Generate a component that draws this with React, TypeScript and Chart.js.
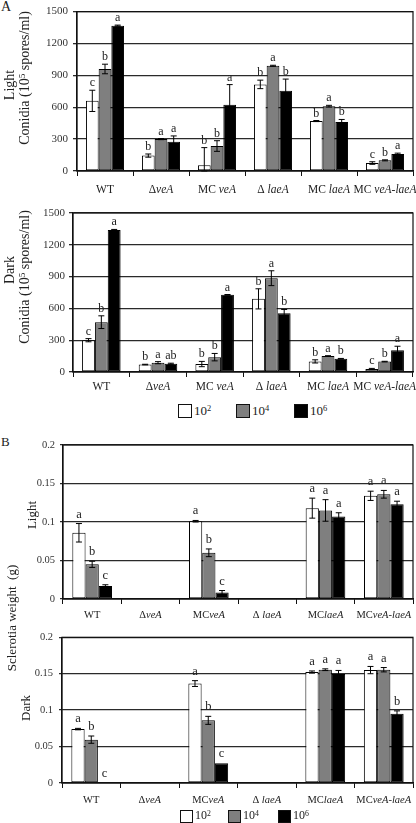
import React, { useEffect, useRef } from "react";
import { Chart, registerables } from "chart.js";
Chart.register(...registerables);

const SERIF = '"Liberation Serif", "Times New Roman", serif';

// ---------- data ----------
const seriesNames = ["10²", "10⁴", "10⁶"];
const seriesFills = ["#ffffff", "#7f7f7f", "#000000"];

const catPrefixA = ["WT", "Δ", "MC ", "Δ ", "MC ", "MC "];
const catPrefixB = ["WT", "Δ", "MC", "Δ ", "MC", "MC"];
const catItalic = ["", "veA", "veA", "laeA", "laeA", "veA-laeA"];

// Panel A – Light (conidia, 10^5 spores/ml)
const aLight102 = [660, 145, 55, 815, 470, 75];
const aLight104 = [960, 300, 235, 990, 610, 100];
const aLight106 = [1368, 275, 623, 755, 460, 160];
const aLightErr102 = [100, 15, 165, 40, 5, 12];
const aLightErr104 = [45, 5, 50, 5, 8, 5];
const aLightErr106 = [5, 55, 190, 110, 25, 8];
const aLightLet102 = ["c", "b", "b", "b", "b", "c"];
const aLightLet104 = ["b", "a", "b", "a", "a", "b"];
const aLightLet106 = ["a", "a", "a", "b", "b", "a"];

// Panel A – Dark
const aDark102 = [300, 70, 75, 690, 100, 28];
const aDark104 = [470, 88, 140, 885, 150, 98];
const aDark106 = [1340, 78, 728, 555, 125, 205];
const aDarkErr102 = [15, 3, 25, 95, 15, 6];
const aDarkErr104 = [60, 10, 35, 70, 4, 3];
const aDarkErr106 = [5, 5, 3, 35, 3, 38];
const aDarkLet102 = ["c", "b", "b", "b", "b", "c"];
const aDarkLet104 = ["b", "a", "b", "a", "a", "b"];
const aDarkLet106 = ["a", "ab", "a", "b", "b", "a"];

// Panel B – Light (sclerotia weight, g)
const bLight102 = [0.086, 0, 0.101, 0, 0.118, 0.134];
const bLight104 = [0.045, 0, 0.06, 0, 0.115, 0.136];
const bLight106 = [0.017, 0, 0.0085, 0, 0.107, 0.123];
const bLightErr102 = [0.012, 0, 0.001, 0, 0.013, 0.006];
const bLightErr104 = [0.004, 0, 0.005, 0, 0.014, 0.005];
const bLightErr106 = [0.0015, 0, 0.0025, 0, 0.005, 0.004];
const bLightLet102 = ["a", "", "a", "", "a", "a"];
const bLightLet104 = ["b", "", "b", "", "a", "a"];
const bLightLet106 = ["c", "", "c", "", "a", "a"];

// Panel B – Dark
const bDark102 = [0.074, 0, 0.1365, 0, 0.1523, 0.155];
const bDark104 = [0.0595, 0, 0.086, 0, 0.1555, 0.1555];
const bDark106 = [0, 0, 0.027, 0, 0.1495, 0.095];
const bDarkErr102 = [0.001, 0, 0.004, 0, 0.0015, 0.005];
const bDarkErr104 = [0.005, 0, 0.0055, 0, 0.0012, 0.003];
const bDarkErr106 = [0, 0, 0, 0, 0.005, 0.004];
const bDarkLet102 = ["a", "", "a", "", "a", "a"];
const bDarkLet104 = ["b", "", "b", "", "a", "a"];
const bDarkLet106 = ["c", "", "c", "", "a", "b"];

const yTicksA = { max: 1500, step: 300 };
const yTicksB = { max: 0.2, step: 0.05 };

// ---------- panel ----------
type Rect = { l: number; t: number; r: number; b: number };
type PanelCfg = {
  top: number;
  height: number;
  plot: Rect;
  yMax: number;
  yStep: number;
  tickFont: number;
  tickLen: number;
  tickPad: number;
  catFont: number;
  catOffset: number;
  letterFont: number;
  letterGap: number;
  prefixes: string[];
  values: number[][];
  errors: number[][];
  letters: string[][];
  fmt: (v: number) => string;
};

function Panel({ cfg }: { cfg: PanelCfg }) {
  const ref = useRef<HTMLCanvasElement | null>(null);
  useEffect(() => {
    const canvas = ref.current;
    if (!canvas) return;
    const labels = cfg.prefixes.map((p, i) => p + catItalic[i]);
    const overlay = {
      id: "overlay",
      afterDatasetsDraw(chart: any) {
        const ctx = chart.ctx as CanvasRenderingContext2D;
        const ys = chart.scales.y;
        const xs = chart.scales.x;
        ctx.save();
        chart.data.datasets.forEach((_ds: any, di: number) => {
          const meta = chart.getDatasetMeta(di);
          meta.data.forEach((el: any, j: number) => {
            const v = cfg.values[di][j];
            const e = cfg.errors[di][j];
            const x = el.x;
            const yh = ys.getPixelForValue(v + e);
            if (e > 0) {
              const yl = ys.getPixelForValue(Math.max(0, v - e));
              ctx.strokeStyle = "#000";
              ctx.lineWidth = 1;
              ctx.beginPath();
              ctx.moveTo(x, yh);
              ctx.lineTo(x, yl);
              ctx.moveTo(x - 3, yh);
              ctx.lineTo(x + 3, yh);
              ctx.moveTo(x - 3, yl);
              ctx.lineTo(x + 3, yl);
              ctx.stroke();
            }
            const L = cfg.letters[di][j];
            if (L) {
              ctx.fillStyle = "#222";
              ctx.font = `${cfg.letterFont}px ${SERIF}`;
              ctx.textAlign = "center";
              ctx.textBaseline = "alphabetic";
              ctx.fillText(L, x, yh - cfg.letterGap);
            }
          });
        });
        // category labels with italic gene names
        const yLab = chart.chartArea.bottom + cfg.catOffset;
        labels.forEach((_l, i) => {
          const cx = xs.getPixelForTick(i);
          const f1 = `${cfg.catFont}px ${SERIF}`;
          const f2 = `italic ${cfg.catFont}px ${SERIF}`;
          ctx.font = f1;
          const w1 = ctx.measureText(cfg.prefixes[i]).width;
          ctx.font = f2;
          const w2 = ctx.measureText(catItalic[i]).width;
          const x0 = cx - (w1 + w2) / 2;
          ctx.fillStyle = "#222";
          ctx.textAlign = "left";
          ctx.textBaseline = "middle";
          ctx.font = f1;
          ctx.fillText(cfg.prefixes[i], x0, yLab);
          ctx.font = f2;
          ctx.fillText(catItalic[i], x0 + w1, yLab);
        });
        // frame
        const a = chart.chartArea;
        ctx.strokeStyle = "#111";
        ctx.lineWidth = 1.2;
        ctx.strokeRect(a.left, a.top, a.right - a.left, a.bottom - a.top);
        ctx.restore();
      },
    };
    const chart = new Chart(canvas, {
      type: "bar",
      data: {
        labels,
        datasets: seriesNames.map((n, i) => ({
          label: n,
          data: cfg.values[i],
          backgroundColor: seriesFills[i],
          borderColor: "#000",
          borderWidth: 1,
          borderSkipped: false,
          barPercentage: 1,
          categoryPercentage: 0.68,
        })),
      },
      options: {
        responsive: false,
        maintainAspectRatio: false,
        animation: false,
        devicePixelRatio: 1,
        layout: {
          padding: { left: 0, right: 416 - cfg.plot.r, top: cfg.plot.t - cfg.top, bottom: 0 },
        },
        plugins: {
          legend: { display: false },
          tooltip: { enabled: false },
          title: { display: false },
        },
        scales: {
          x: {
            grid: {
              display: true,
              offset: true,
              drawOnChartArea: false,
              drawTicks: true,
              tickLength: 5,
              color: "#111",
              lineWidth: 1,
            },
            border: { display: true, color: "#111", width: 1.2 },
            ticks: { display: false },
            afterFit: (s: any) => {
              s.height = cfg.top + cfg.height - cfg.plot.b;
            },
          },
          y: {
            min: 0,
            max: cfg.yMax,
            ticks: {
              stepSize: cfg.yStep,
              callback: (v: any) => cfg.fmt(Number(v)),
              font: { family: SERIF, size: cfg.tickFont },
              color: "#333",
              padding: cfg.tickPad,
            },
            grid: { color: "#2a2a2a", lineWidth: 1.3, drawTicks: true, tickLength: cfg.tickLen },
            border: { display: true, color: "#111", width: 1.2 },
            afterFit: (s: any) => {
              s.width = cfg.plot.l;
            },
          },
        },
      } as any,
      plugins: [overlay],
    });
    return () => chart.destroy();
  }, [cfg]);
  return (
    <canvas
      ref={ref}
      width={416}
      height={cfg.height}
      style={{ position: "absolute", left: 0, top: cfg.top, width: 416, height: cfg.height }}
    />
  );
}

const fmtA = (v: number) => String(Math.round(v));
const fmtB = (v: number) => String(parseFloat(v.toFixed(2)));

const panelALight: PanelCfg = {
  top: 0, height: 200, plot: { l: 77, t: 8, r: 413, b: 171 },
  yMax: yTicksA.max, yStep: yTicksA.step, tickFont: 11, tickLen: 4, tickPad: 5,
  catFont: 11.5, catOffset: 19, letterFont: 12, letterGap: 4, prefixes: catPrefixA,
  values: [aLight102, aLight104, aLight106],
  errors: [aLightErr102, aLightErr104, aLightErr106],
  letters: [aLightLet102, aLightLet104, aLightLet106], fmt: fmtA,
};
const panelADark: PanelCfg = {
  top: 200, height: 200, plot: { l: 73, t: 213, r: 413, b: 372 },
  yMax: yTicksA.max, yStep: yTicksA.step, tickFont: 11, tickLen: 4, tickPad: 4,
  catFont: 11.5, catOffset: 15, letterFont: 12, letterGap: 4, prefixes: catPrefixA,
  values: [aDark102, aDark104, aDark106],
  errors: [aDarkErr102, aDarkErr104, aDarkErr106],
  letters: [aDarkLet102, aDarkLet104, aDarkLet106], fmt: fmtA,
};
const panelBLight: PanelCfg = {
  top: 430, height: 195, plot: { l: 63, t: 445, r: 413, b: 599 },
  yMax: yTicksB.max, yStep: yTicksB.step, tickFont: 10.5, tickLen: 3, tickPad: 5,
  catFont: 10.5, catOffset: 16, letterFont: 12.5, letterGap: 6, prefixes: catPrefixB,
  values: [bLight102, bLight104, bLight106],
  errors: [bLightErr102, bLightErr104, bLightErr106],
  letters: [bLightLet102, bLightLet104, bLightLet106], fmt: fmtB,
};
const panelBDark: PanelCfg = {
  top: 625, height: 185, plot: { l: 62, t: 637, r: 413, b: 783 },
  yMax: yTicksB.max, yStep: yTicksB.step, tickFont: 10.5, tickLen: 3, tickPad: 6,
  catFont: 10.5, catOffset: 17, letterFont: 12.5, letterGap: 6, prefixes: catPrefixB,
  values: [bDark102, bDark104, bDark106],
  errors: [bDarkErr102, bDarkErr104, bDarkErr106],
  letters: [bDarkLet102, bDarkLet104, bDarkLet106], fmt: fmtB,
};

function Rot({ x, y, size, children }: { x: number; y: number; size: number; children: any }) {
  return (
    <div
      style={{
        position: "absolute",
        left: x,
        top: y,
        transform: "translate(-50%, -50%) rotate(-90deg)",
        fontFamily: SERIF,
        fontSize: size,
        lineHeight: 1,
        whiteSpace: "pre",
        color: "#222",
      }}
    >
      {children}
    </div>
  );
}

const Sup = ({ children }: { children: any }) => (
  <span style={{ fontSize: "0.65em", position: "relative", top: "-0.45em" }}>{children}</span>
);

function Legend({ y, box, size, xs }: { y: number; box: number; size: number; xs: number[] }) {
  const sups = ["2", "4", "6"];
  return (
    <>
      {xs.map((x, i) => (
        <React.Fragment key={i}>
          <div
            style={{
              position: "absolute",
              left: x,
              top: y - box / 2,
              width: box - 2,
              height: box - 2,
              border: "1px solid #111",
              background: seriesFills[i],
            }}
          />
          <div
            style={{
              position: "absolute",
              left: x + box + 2,
              top: y - size / 2 - 1,
              fontFamily: SERIF,
              fontSize: size,
              lineHeight: 1,
              color: "#222",
              whiteSpace: "nowrap",
            }}
          >
            10<Sup>{sups[i]}</Sup>
          </div>
        </React.Fragment>
      ))}
    </>
  );
}

export default function App() {
  return (
    <div style={{ position: "absolute", left: 0, top: 0, width: 416, height: 823, background: "#fff", overflow: "hidden" }}>
      <div style={{ position: "absolute", left: 1, top: 0, fontFamily: SERIF, fontSize: 14, lineHeight: 1, color: "#222" }}>A</div>
      <div style={{ position: "absolute", left: 1, top: 435, fontFamily: SERIF, fontSize: 13, lineHeight: 1, color: "#222" }}>B</div>

      <Panel cfg={panelALight} />
      <Panel cfg={panelADark} />
      <Panel cfg={panelBLight} />
      <Panel cfg={panelBDark} />

      <Rot x={10} y={85} size={14}>Light</Rot>
      <Rot x={25} y={78} size={14}>
        Conidia (10<Sup>5</Sup> spores/ml)
      </Rot>
      <Rot x={10} y={270} size={14}>Dark</Rot>
      <Rot x={25} y={277} size={14}>
        Conidia (10<Sup>5</Sup> spores/ml)
      </Rot>

      <Rot x={11} y={618} size={13}>{"Sclerotia weight  (g)"}</Rot>
      <Rot x={31} y={515} size={13}>Light</Rot>
      <Rot x={25} y={708} size={13}>Dark</Rot>

      <Legend y={411} box={14} size={13} xs={[178, 236, 294]} />
      <Legend y={816} box={13} size={12} xs={[180, 228, 278]} />
    </div>
  );
}
